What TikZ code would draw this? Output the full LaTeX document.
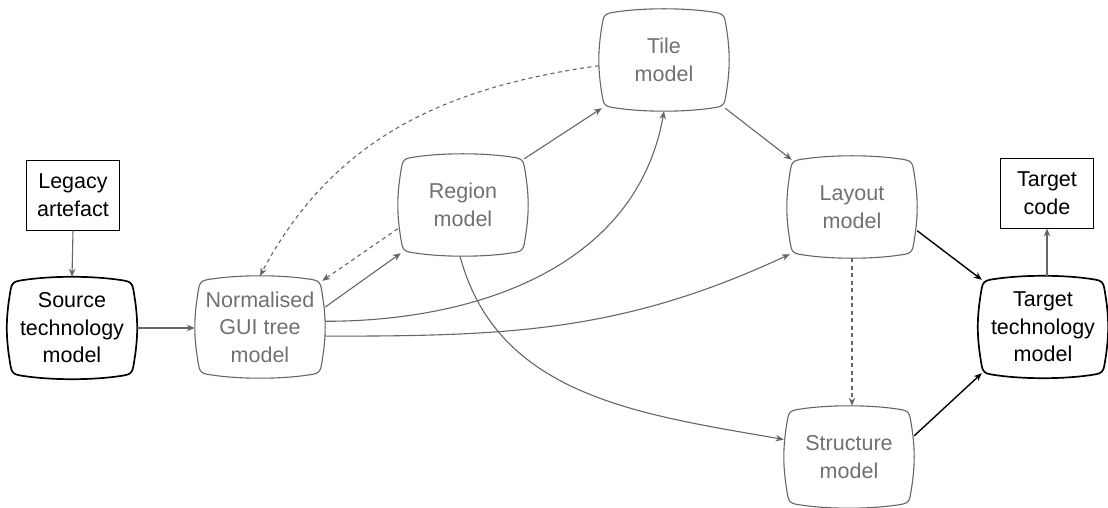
\documentclass[tikz,border=0pt]{standalone}
\usepackage{fontspec}
\setmainfont{Liberation Sans}
\usetikzlibrary{calc,arrows.meta}

\definecolor{linegray}{HTML}{666666}
\definecolor{textgray}{HTML}{707070}

\tikzset{
  model/.style={minimum width=130pt, minimum height=102pt, inner sep=0pt, align=center},
  greymodel/.style={model, text=textgray},
  artefact/.style={draw=black, line width=0.9pt, minimum width=93pt, minimum height=70pt, inner sep=0pt, align=center},
  flow/.style={draw=linegray, line width=1.1pt, -{Stealth[length=8pt,width=6.5pt,inset=2.5pt]}},
  hint/.style={flow, dash pattern=on 4pt off 3.5pt},
  mainflow/.style={draw=black, line width=1.4pt, -{Stealth[length=8pt,width=6.5pt,inset=2.5pt]}}
}

% rounded outline with slightly bulging edges around node #1
\newcommand{\screenbox}[2]{%
  \draw[#2]
    ($(#1.north west)+(12pt,-4pt)$)
    .. controls ($(#1.north west)+(42pt,1.33pt)$) and ($(#1.north east)+(-42pt,1.33pt)$) .. ($(#1.north east)+(-12pt,-4pt)$)
    .. controls ($(#1.north east)+(-7pt,-4.9pt)$) and ($(#1.north east)+(-4.9pt,-7pt)$) .. ($(#1.north east)+(-4pt,-12pt)$)
    .. controls ($(#1.north east)+(1.33pt,-42pt)$) and ($(#1.south east)+(1.33pt,42pt)$) .. ($(#1.south east)+(-4pt,12pt)$)
    .. controls ($(#1.south east)+(-4.9pt,7pt)$) and ($(#1.south east)+(-7pt,4.9pt)$) .. ($(#1.south east)+(-12pt,4pt)$)
    .. controls ($(#1.south east)+(-42pt,-1.33pt)$) and ($(#1.south west)+(42pt,-1.33pt)$) .. ($(#1.south west)+(12pt,4pt)$)
    .. controls ($(#1.south west)+(7pt,4.9pt)$) and ($(#1.south west)+(4.9pt,7pt)$) .. ($(#1.south west)+(4pt,12pt)$)
    .. controls ($(#1.south west)+(-1.33pt,42pt)$) and ($(#1.north west)+(-1.33pt,-42pt)$) .. ($(#1.north west)+(4pt,-12pt)$)
    .. controls ($(#1.north west)+(4.9pt,-7pt)$) and ($(#1.north west)+(7pt,-4.9pt)$) .. cycle;
}

\begin{document}
\begin{tikzpicture}[x=1pt, y=1pt, font=\fontsize{21.5}{27.5}\selectfont]
\useasboundingbox (0,0) rectangle (1108,508);

%models
\node[artefact] (legacy) at (73,313) {Legacy\\artefact};
\node[model] (source) at (72,180) {Source\\technology\\model};
\node[greymodel] (norm) at (260,181) {Normalised\\GUI tree\\model};
\node[greymodel] (region) at (463,303) {Region\\model};
\node[greymodel] (tile) at (664,448) {Tile\\model};
\node[greymodel] (layout) at (852,301) {Layout\\model};
\node[greymodel] (structure) at (849,51) {Structure\\model};
\node[model] (target) at (1043,181) {Target\\technology\\model};
\node[artefact] (code) at (1047,315) {Target\\code};

%outlines
\foreach \n in {norm,region,tile,layout,structure}
  \screenbox{\n}{draw=linegray, line width=1.1pt};
\foreach \n in {source,target}
  \screenbox{\n}{draw=black, line width=1.7pt};

%transformations
\draw[flow] (legacy.south) -- (source.north);
\draw[flow] (source.east) -- (source.east -| norm.west);
\draw[hint] (tile.185) to[out=188, in=62] (norm.north);
\draw[hint] (region.200) -- ([shift={(-3pt,-5pt)}]norm.north east);
\draw[flow] (norm.17) -- ([shift={(3pt,3pt)}]region.south west);
\draw[flow] (norm.5) to[out=0, in=-100] (tile.south);
\draw[flow] (norm.-8) to[out=0, in=205] ([shift={(3pt,4pt)}]layout.south west);
\draw[flow] ([xshift=-3pt]region.south) to[out=-75, in=170] (structure.165);
\draw[flow] ([shift={(-4pt,-5pt)}]region.north east) -- ([shift={(3pt,3pt)}]tile.south west);
\draw[flow] ([shift={(-4pt,3pt)}]tile.south east) -- ([shift={(5pt,-4pt)}]layout.north west);
\draw[hint] (layout.south) -- (layout.south |- structure.north);
\draw[mainflow] (layout.-20) -- ([shift={(4pt,-4pt)}]target.north west);
\draw[mainflow] (structure.18) -- ([shift={(4pt,5pt)}]target.south west);
\draw[flow] (code.south |- target.north) -- (code.south);
\end{tikzpicture}
\end{document}
